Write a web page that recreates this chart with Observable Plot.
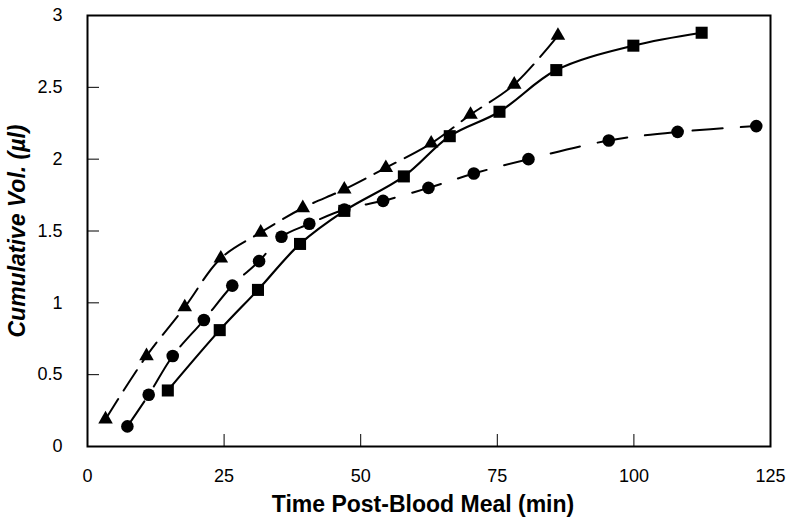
<!DOCTYPE html>
<html><head><meta charset="utf-8">
<script src="https://cdn.jsdelivr.net/npm/d3@7"></script>
<script src="https://cdn.jsdelivr.net/npm/@observablehq/plot@0.6"></script>
<style>body{margin:0;background:#fff} svg{display:block}</style>
</head><body><div id="chart"></div>
<script>
// Series: triangles (dashed), circles (dashed), squares (solid)
const triX = [3.3, 10.8, 17.8, 24.4, 31.7, 39.4, 47.0, 54.6, 62.9, 70.1, 78.1, 86.1];
const triY = [0.19, 0.63, 0.97, 1.31, 1.49, 1.66, 1.79, 1.94, 2.11, 2.31, 2.52, 2.86];
const cirX = [7.3, 11.2, 15.6, 21.3, 26.5, 31.4, 35.5, 40.6, 47.0, 54.1, 62.4, 70.7, 80.7, 95.4, 108.0, 122.4];
const cirY = [0.14, 0.36, 0.63, 0.88, 1.12, 1.29, 1.46, 1.55, 1.65, 1.71, 1.80, 1.90, 2.00, 2.13, 2.19, 2.23];
const sqX = [14.7, 24.2, 31.2, 38.9, 47.0, 57.9, 66.3, 75.4, 85.8, 99.9, 112.4];
const sqY = [0.39, 0.81, 1.09, 1.41, 1.64, 1.88, 2.16, 2.33, 2.62, 2.79, 2.88];
const xTicks = [0, 25, 50, 75, 100, 125];
const yTicks = [0, 0.5, 1, 1.5, 2, 2.5, 3];
const xLabel = "Time Post-Blood Meal (min)";
const yLabel = "Cumulative Vol. (µl)";

const tri = triX.map((x, i) => ({x, y: triY[i]}));
const cir = cirX.map((x, i) => ({x, y: cirY[i]}));
const sq = sqX.map((x, i) => ({x, y: sqY[i]}));

const W = 790, H = 519, mL = 87, mR = 20, mT = 15, mB = 73;
const fw = W - mL - mR, fh = H - mT - mB;
const fmt = d => String(d);

const chart = Plot.plot({
  width: W, height: H,
  marginLeft: mL, marginRight: mR, marginTop: mT, marginBottom: mB,
  style: {fontFamily: "'Liberation Sans', Arial, sans-serif", fontSize: "18px", background: "#fff", color: "#000"},
  x: {domain: [0, 125]},
  y: {domain: [0, 3]},
  marks: [
    Plot.ruleX(xTicks.slice(1, -1), {x: d => d, insetTop: fh - 12, stroke: "#000", strokeWidth: 1}),
    Plot.ruleY(yTicks.slice(1, -1), {y: d => d, insetRight: fw - 12, stroke: "#000", strokeWidth: 1}),
    Plot.frame({stroke: "#000", strokeWidth: 2}),
    Plot.axisX({ticks: xTicks, tickSize: 0, tickPadding: 23, fontSize: 18, tickFormat: fmt, label: null}),
    Plot.axisY({ticks: yTicks, tickSize: 0, tickPadding: 25, fontSize: 18, tickFormat: fmt, label: null}),
    Plot.line(tri, {x: "x", y: "y", curve: "catmull-rom", stroke: "#000", strokeWidth: 2, strokeDasharray: "24,10"}),
    Plot.line(cir, {x: "x", y: "y", curve: "catmull-rom", stroke: "#000", strokeWidth: 2, strokeDasharray: "30,18"}),
    Plot.line(sq, {x: "x", y: "y", curve: "catmull-rom", stroke: "#000", strokeWidth: 2.2}),
    Plot.dot(tri, {x: "x", y: "y", symbol: "triangle", r: 5.4, fill: "#000", stroke: "none"}),
    Plot.dot(cir, {x: "x", y: "y", symbol: "circle", r: 6.3, fill: "#000", stroke: "none"}),
    Plot.dot(sq, {x: "x", y: "y", symbol: "square", r: 6.8, fill: "#000", stroke: "none"}),
    Plot.text([xLabel], {frameAnchor: "bottom", dx: -6, dy: 58, fontSize: 23, fontWeight: "bold", textAnchor: "middle", lineAnchor: "middle", fill: "#000"}),
    Plot.text([yLabel], {frameAnchor: "left", dx: -70, rotate: -90, fontSize: 23, fontWeight: "bold", fontStyle: "italic", textAnchor: "middle", lineAnchor: "middle", fill: "#000"})
  ]
});
document.getElementById("chart").appendChild(chart);
</script>
</body></html>
